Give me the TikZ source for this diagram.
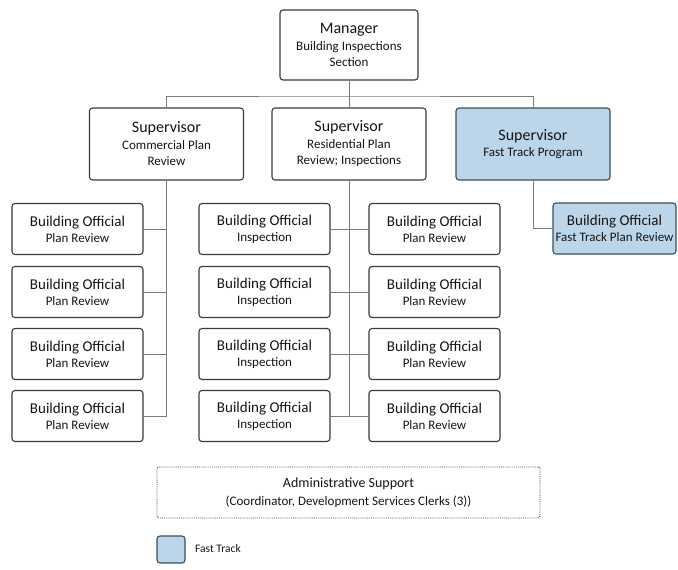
\documentclass[tikz,border=0pt]{standalone}
\usepackage{fontspec}
\setmainfont{Carlito}
\definecolor{boxline}{HTML}{3A3A3A}
\definecolor{ftfill}{HTML}{BCD5E8}
\definecolor{ftline}{HTML}{3C4E5C}
\definecolor{connc}{HTML}{7A7A7A}
\definecolor{txt}{HTML}{151515}
\newcommand{\hdA}[1]{{\fontsize{16}{18}\selectfont #1}}
\newcommand{\hdB}[1]{{\fontsize{15}{17}\selectfont #1}}
\begin{document}
\begin{tikzpicture}[x=1pt,y=-1pt,
  box/.style={draw=boxline, line width=1.1pt, rounded corners=3pt, fill=white,
    align=center, inner sep=0pt, text=txt, font=\fontsize{13}{17}\selectfont},
  ftbox/.style={box, draw=ftline, fill=ftfill},
  supbox/.style={minimum width=154pt, minimum height=72pt},
  offbox/.style={minimum width=131pt, minimum height=51pt},
  conn/.style={draw=connc, line width=0.9pt},
  admbox/.style={draw=black!70, densely dotted, line width=0.9pt, rounded corners=2pt,
    minimum width=383pt, minimum height=51pt, align=center, inner sep=0pt, text=txt,
    font=\fontsize{13}{18}\selectfont}
]
\useasboundingbox (0,0) rectangle (678,570);

% manager
\node[box, minimum width=138pt, minimum height=70pt] (mgr) at (349,45)
  {\hdA{Manager}\\[0pt] Building Inspections\\[-1pt] Section};

% supervisors
\node[box, supbox] (sc) at (166.5,144) {\hdA{Supervisor}\\[0pt] Commercial Plan\\[-1pt] Review};
\node[box, supbox] (sr) at (349,144) {\hdA{Supervisor}\\[0pt] Residential Plan\\[-1pt] Review; Inspections};
\node[ftbox, supbox] (sf) at (533,144) {\hdA{Supervisor}\\[-1pt] Fast Track Program};

% building officials
\foreach \i/\yy in {1/229, 2/292, 3/354, 4/416}{
  \node[box, offbox] (pr\i) at (77.5,\yy) {\hdB{Building Official}\\[-1pt] Plan Review};
  \node[box, offbox] (in\i) at (264.5,\yy) {\hdB{Building Official}\\[-1pt] Inspection};
  \node[box, offbox] (rr\i) at (434.5,\yy) {\hdB{Building Official}\\[-1pt] Plan Review};
}
\node[ftbox, minimum width=123pt, minimum height=51pt] (ft) at (614.5,228.5)
  {\hdB{Building Official}\\[-1pt] Fast Track Plan Review};

% connectors
\coordinate (bus) at (349,96);
\draw[conn] (mgr.south) -- (sr.north);
\draw[conn] (sc.north) |- (bus) -| (sf.north);

\draw[conn] (sc.south) |- (pr4.east);
\foreach \i in {1,2,3}{
  \draw[conn] (pr\i.east) -- (sc.south |- pr\i.east);
}
\draw[conn] (sr.south) -- (sr.south |- in4.east);
\foreach \i in {1,2,3,4}{
  \draw[conn] (in\i.east) -- (rr\i.west);
}
\draw[conn] (sf.south) |- (ft.west);

% admin support
\node[admbox] (adm) at (348.5,492.5)
  {{\fontsize{14}{17}\selectfont Administrative Support}\\[0pt] (Coordinator, Development Services Clerks (3))};

% legend
\node[ftbox, minimum width=28pt, minimum height=27pt] (leg) at (171,549.5) {};
\node[anchor=west, inner sep=0pt, text=txt, font=\fontsize{11.5}{14}\selectfont] (legt) at (195,549) {Fast Track};
\end{tikzpicture}
\end{document}
